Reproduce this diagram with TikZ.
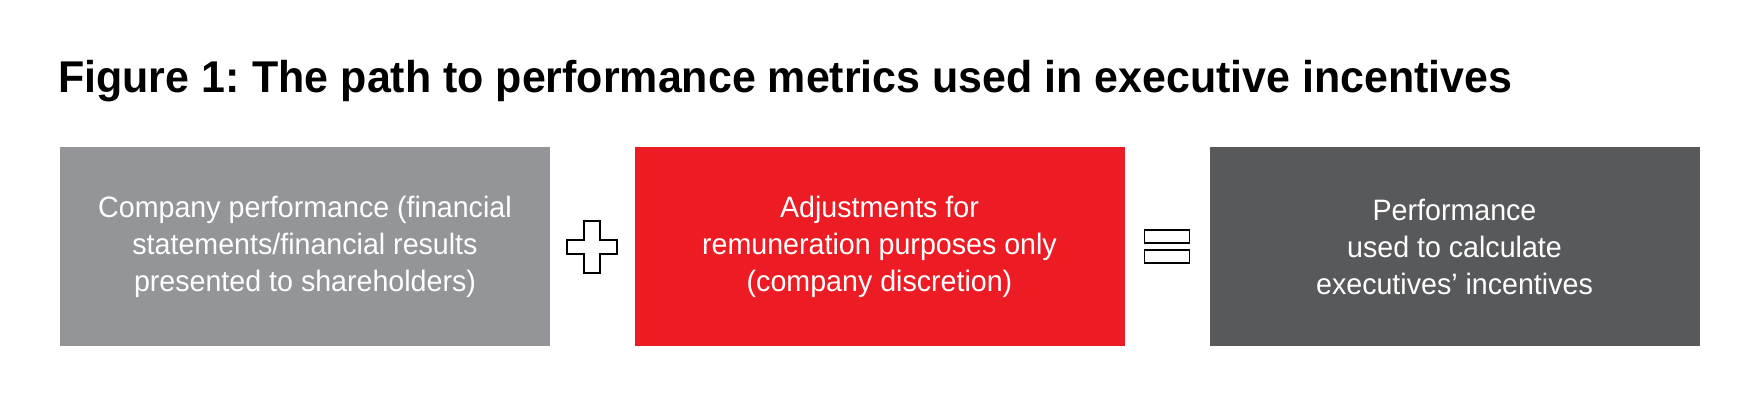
\documentclass[tikz,border=0pt]{standalone}
\usepackage{fontspec}
\setmainfont{Liberation Sans}
\definecolor{boxgrey}{HTML}{939598}
\definecolor{boxred}{HTML}{ED1C24}
\definecolor{boxdark}{HTML}{58595B}
\tikzset{
  metricbox/.style={minimum width=490pt, minimum height=199pt, inner sep=0pt,
    text=white, align=center, font=\fontsize{29.5pt}{37pt}\selectfont},
  signshape/.style={draw=black, line width=1.6pt, fill=white, line join=miter},
  titletext/.style={anchor=base west, inner sep=0pt, font=\fontsize{44.5pt}{52pt}\selectfont\bfseries}
}
\begin{document}
\begin{tikzpicture}[x=1pt,y=1pt]
\useasboundingbox (0,0) rectangle (1758,405);
\node[titletext] (title) at (58,312.5) {\scalebox{0.965}[1]{Figure 1:\kern-3pt{} The path to performance metrics used in executive incentives}};
\node[metricbox, fill=boxgrey] (b1) at (305,158.5) {\scalebox{0.97}[1]{Company performance (financial}\\\scalebox{0.97}[1]{statements/financial results}\\\scalebox{0.97}[1]{presented to shareholders)}};
\node[metricbox, fill=boxred] (b2) at (879.5,158.5) {\scalebox{0.97}[1]{Adjustments for}\\\scalebox{0.97}[1]{remuneration purposes only}\\\scalebox{0.97}[1]{(company discretion)}};
\node[metricbox, fill=boxdark] (b3) at (1454.5,158.5) {\scalebox{0.97}[1]{Performance}\\\scalebox{0.97}[1]{used to calculate}\\\scalebox{0.97}[1]{executives’ incentives}};
% plus sign
\coordinate (pc) at (592,158);
\draw[signshape] ([shift={(-8,26)}]pc) -- ([shift={(8,26)}]pc) -- ([shift={(8,7)}]pc) -- ([shift={(25,7)}]pc)
  -- ([shift={(25,-7)}]pc) -- ([shift={(8,-7)}]pc) -- ([shift={(8,-26)}]pc) -- ([shift={(-8,-26)}]pc)
  -- ([shift={(-8,-7)}]pc) -- ([shift={(-25,-7)}]pc) -- ([shift={(-25,7)}]pc) -- ([shift={(-8,7)}]pc) -- cycle;
% equals sign
\coordinate (ec) at (1167,158.5);
\draw[signshape] ([shift={(-22.5,3.5)}]ec) rectangle ([shift={(22.5,16.5)}]ec);
\draw[signshape] ([shift={(-22.5,-3.5)}]ec) rectangle ([shift={(22.5,-16.5)}]ec);
\end{tikzpicture}
\end{document}
